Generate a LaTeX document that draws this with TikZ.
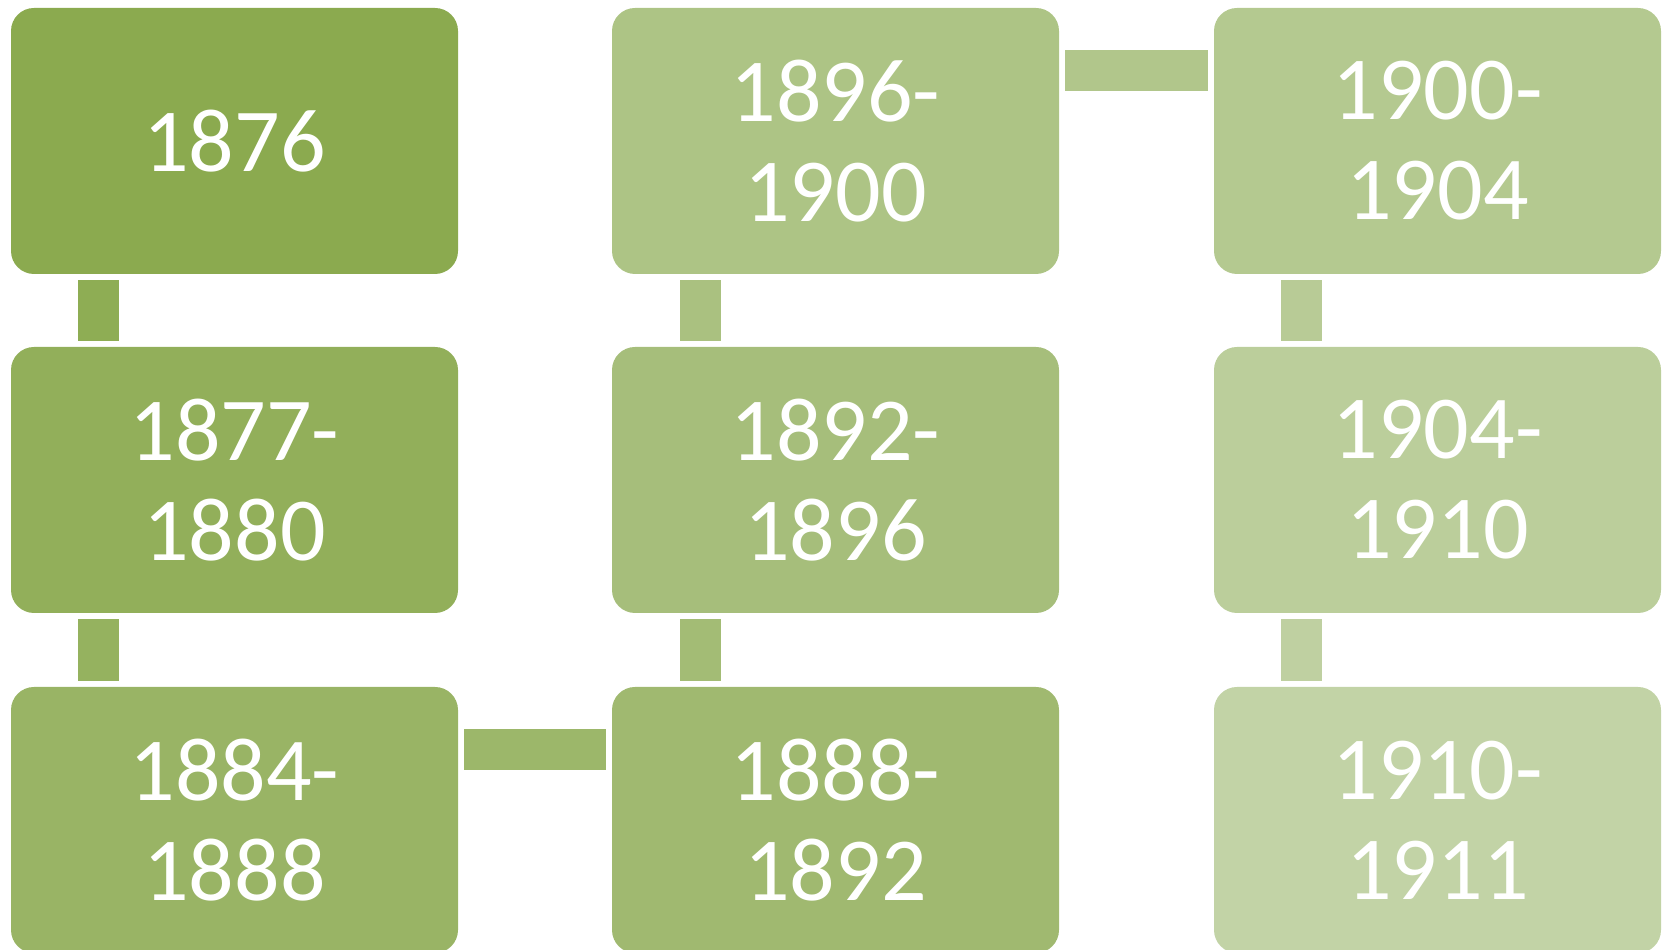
\documentclass[tikz,border=0pt]{standalone}
\usepackage{fontspec}
\setmainfont{Carlito}
\usepackage{tikz}
\usetikzlibrary{calc}
\usepackage{xcolor}

\definecolor{greenA}{RGB}{139,170,79}
\definecolor{greenZ}{RGB}{194,211,166}

\begin{document}
\begin{tikzpicture}[
  yearbox/.style={fill=#1, draw=none, rounded corners=0.23cm,
    minimum width=4.47cm, minimum height=2.66cm, inner sep=0pt,
    text=white, align=center, font=\fontsize{25.6}{28.45}\selectfont},
  link/.style={fill=#1, draw=none}
]
\useasboundingbox (0,0) rectangle (16.65,9.5);

\node[yearbox=greenZ!0!greenA]    (y1) at (2.345,8.09)  {1876};
\node[yearbox=greenZ!12.5!greenA] (y2) at (2.345,4.70)  {1877-\\1880};
\node[yearbox=greenZ!25!greenA]   (y3) at (2.345,1.30)  {1884-\\1888};
\node[yearbox=greenZ!37.5!greenA] (y4) at (8.355,1.30)  {1888-\\1892};
\node[yearbox=greenZ!50!greenA]   (y5) at (8.355,4.70)  {1892-\\1896};
\node[yearbox=greenZ!62.5!greenA] (y6) at (8.355,8.09)  {1896-\\1900};
\node[yearbox=greenZ!75!greenA]   (y7) at (14.375,8.09) {1900-\\1904};
\node[yearbox=greenZ!87.5!greenA] (y8) at (14.375,4.70) {1904-\\1910};
\node[yearbox=greenZ!100!greenA]  (y9) at (14.375,1.30) {1910-\\1911};

% links between the periods
\fill[link=greenZ!6.25!greenA]
  ($(y1.south west)+(0.68,-0.05)$) rectangle ($(y2.north west)+(1.09,0.05)$);
\fill[link=greenZ!18.75!greenA]
  ($(y2.south west)+(0.68,-0.05)$) rectangle ($(y3.north west)+(1.09,0.05)$);
\fill[link=greenZ!31.25!greenA]
  ($(y3.north east)+(0.05,-0.43)$) rectangle ($(y4.north west)+(-0.05,-0.84)$);
\fill[link=greenZ!43.75!greenA]
  ($(y4.north west)+(0.69,0.05)$) rectangle ($(y5.south west)+(1.10,-0.05)$);
\fill[link=greenZ!56.25!greenA]
  ($(y5.north west)+(0.69,0.05)$) rectangle ($(y6.south west)+(1.10,-0.05)$);
\fill[link=greenZ!68.75!greenA]
  ($(y6.north east)+(0.05,-0.43)$) rectangle ($(y7.north west)+(-0.05,-0.84)$);
\fill[link=greenZ!81.25!greenA]
  ($(y7.south west)+(0.68,-0.05)$) rectangle ($(y8.north west)+(1.09,0.05)$);
\fill[link=greenZ!93.75!greenA]
  ($(y8.south west)+(0.68,-0.05)$) rectangle ($(y9.north west)+(1.09,0.05)$);
\end{tikzpicture}
\end{document}
